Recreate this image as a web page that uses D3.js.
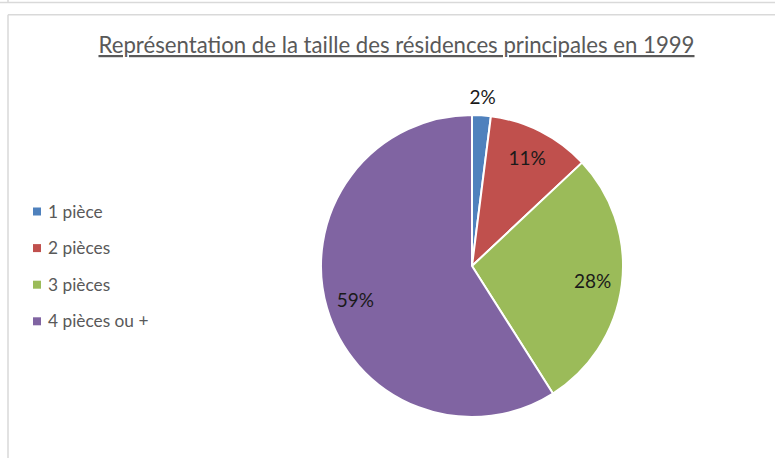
<!DOCTYPE html>
<html>
<head>
<meta charset="utf-8">
<script src="https://cdn.jsdelivr.net/npm/d3@7"></script>
<style>
  html, body { margin: 0; padding: 0; background: #fff; }
  svg { display: block; }
</style>
</head>
<body>
<svg id="chart" width="775" height="458"></svg>
<script>
// Parts of dwellings by number of rooms, 1999 (percent)
const categories = ["1 pièce", "2 pièces", "3 pièces", "4 pièces ou +"];
const shares = [2, 11, 28, 59];
const palette = ["#4F81BD", "#C0504D", "#9BBB59", "#8064A2"];
const chartTitle = "Représentation de la taille des résidences principales en 1999";

const W = 775, H = 458;
const svg = d3.select("#chart");
const font = "Lato, 'Open Sans', sans-serif";

// Frame lines of the chart area and the box above it
const frame = svg.append("g").attr("fill", "none").attr("stroke", "#d9d9d9").attr("stroke-width", 1.5);
frame.append("line").attr("x1", 0).attr("x2", W).attr("y1", 2.5).attr("y2", 2.5);
frame.append("line").attr("x1", 8).attr("x2", 8).attr("y1", 0).attr("y2", 2.5);
frame.append("line").attr("x1", 8).attr("x2", W).attr("y1", 14.8).attr("y2", 14.8);
frame.append("line").attr("x1", 8).attr("x2", 8).attr("y1", 14.8).attr("y2", H);

// Title (underlined)
svg.append("text")
  .attr("x", 396.5).attr("y", 53)
  .attr("text-anchor", "middle")
  .attr("font-family", font)
  .attr("font-size", 22.2)
  .attr("fill", "#595959")
  .attr("text-decoration", "underline")
  .text(chartTitle);

const color = d3.scaleOrdinal().domain(categories).range(palette);

const data = categories.map((c, i) => ({ category: c, value: shares[i] }));

const cx = 472, cy = 266, R = 151;
const pie = d3.pie().value(d => d.value).sort(null);
const arcs = pie(data);
const arc = d3.arc().innerRadius(0).outerRadius(R);
const labelArc = d3.arc().innerRadius(R * 0.805).outerRadius(R * 0.805);
const outerLabelArc = d3.arc().innerRadius(R + 18).outerRadius(R + 18);

const g = svg.append("g").attr("transform", `translate(${cx},${cy})`);

g.selectAll("path.slice")
  .data(arcs)
  .join("path")
  .attr("class", "slice")
  .attr("d", arc)
  .attr("fill", d => color(d.data.category))
  .attr("stroke", "#fff")
  .attr("stroke-width", 2)
  .attr("stroke-linejoin", "round");

// Percentage labels: small slices get their label outside the pie
g.selectAll("text.pct")
  .data(arcs)
  .join("text")
  .attr("class", "pct")
  .attr("transform", d => {
    const p = d.data.value < 5 ? outerLabelArc.centroid(d) : labelArc.centroid(d);
    return `translate(${p[0]},${p[1]})`;
  })
  .attr("text-anchor", "middle")
  .attr("dy", "0.36em")
  .attr("font-family", font)
  .attr("font-size", 19)
  .attr("fill", "#1a1a1a")
  .text(d => d.data.value + "%");

// Legend
const legend = svg.append("g").attr("transform", "translate(33,211.5)");
const rowStep = 36.6;
const item = legend.selectAll("g.item")
  .data(categories)
  .join("g")
  .attr("class", "item")
  .attr("transform", (d, i) => `translate(0,${i * rowStep})`);
item.append("rect")
  .attr("x", 0).attr("y", -4).attr("width", 8).attr("height", 8)
  .attr("fill", d => color(d));
item.append("text")
  .attr("x", 15).attr("y", 0).attr("dy", "0.35em")
  .attr("font-family", font)
  .attr("font-size", 17.3)
  .attr("fill", "#595959")
  .text(d => d);
</script>
</body>
</html>
